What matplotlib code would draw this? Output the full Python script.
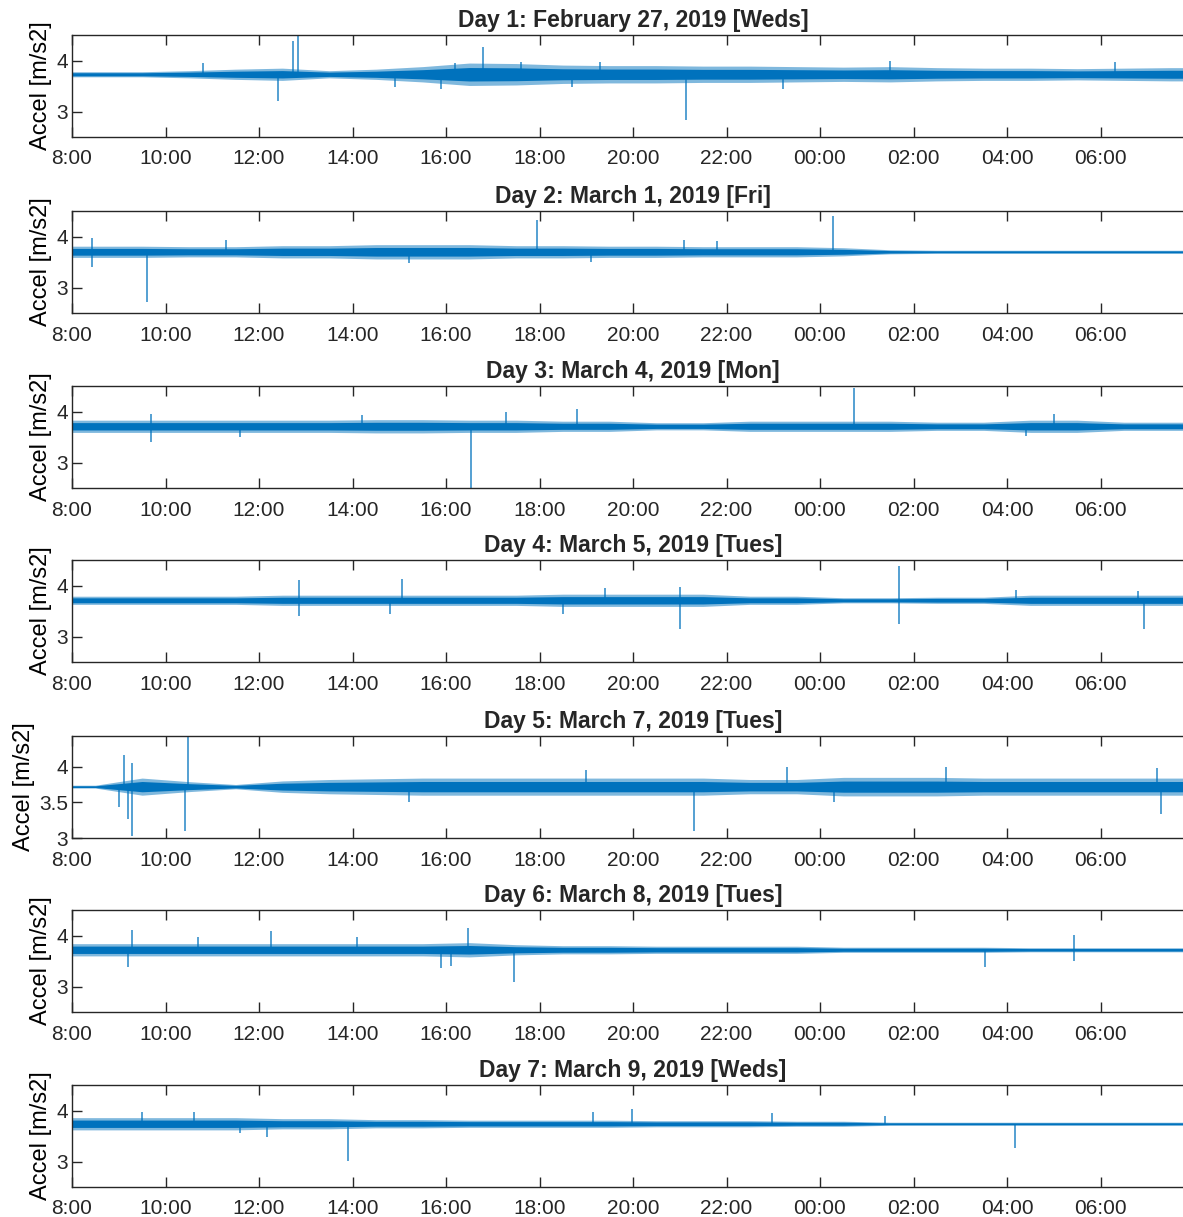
import numpy as np
import matplotlib.pyplot as plt

plt.rcParams['font.family'] = ['Liberation Sans', 'DejaVu Sans']
plt.rcParams['text.color'] = '#262626'
plt.rcParams['axes.edgecolor'] = '#262626'
plt.rcParams['xtick.color'] = '#262626'
plt.rcParams['ytick.color'] = '#262626'

titles = ["Day 1: February 27, 2019 [Weds]",
          "Day 2: March 1, 2019 [Fri]",
          "Day 3: March 4, 2019 [Mon]",
          "Day 4: March 5, 2019 [Tues]",
          "Day 5: March 7, 2019 [Tues]",
          "Day 6: March 8, 2019 [Tues]",
          "Day 7: March 9, 2019 [Weds]"]

tick_hours = [0, 2, 4, 6, 8, 10, 12, 14, 16, 18, 20, 22]
tick_labels = ['8:00', '10:00', '12:00', '14:00', '16:00', '18:00',
               '20:00', '22:00', '00:00', '02:00', '04:00', '06:00']

# signal centre level per day
baseline = [3.73, 3.70, 3.71, 3.71, 3.72, 3.72, 3.74]

# half-width of the noise band, one value per hour from 8:00 to 7:00
band_1 = [0.05, 0.05, 0.07, 0.10, 0.12, 0.07, 0.10, 0.15, 0.22, 0.21, 0.18, 0.17,
          0.17, 0.16, 0.16, 0.15, 0.14, 0.15, 0.13, 0.12, 0.12, 0.11, 0.12, 0.13]
band_2 = [0.11, 0.11, 0.10, 0.10, 0.12, 0.12, 0.14, 0.14, 0.14, 0.12, 0.12, 0.11,
          0.11, 0.10, 0.10, 0.10, 0.08, 0.04, 0.03, 0.03, 0.03, 0.03, 0.03, 0.03]
band_3 = [0.12, 0.12, 0.12, 0.12, 0.12, 0.12, 0.13, 0.13, 0.12, 0.12, 0.10, 0.10,
          0.07, 0.07, 0.10, 0.10, 0.10, 0.10, 0.08, 0.08, 0.12, 0.12, 0.08, 0.08]
band_4 = [0.08, 0.08, 0.08, 0.08, 0.10, 0.10, 0.10, 0.10, 0.10, 0.10, 0.12, 0.12,
          0.12, 0.12, 0.08, 0.08, 0.05, 0.05, 0.06, 0.06, 0.10, 0.10, 0.10, 0.10]
band_5 = [0.02, 0.12, 0.07, 0.03, 0.08, 0.10, 0.11, 0.12, 0.12, 0.12, 0.12, 0.12,
          0.12, 0.12, 0.10, 0.10, 0.13, 0.13, 0.13, 0.12, 0.12, 0.12, 0.12, 0.12]
band_6 = [0.12, 0.12, 0.12, 0.12, 0.12, 0.12, 0.12, 0.12, 0.14, 0.10, 0.08, 0.08,
          0.07, 0.07, 0.07, 0.07, 0.05, 0.05, 0.05, 0.05, 0.04, 0.04, 0.04, 0.04]
band_7 = [0.12, 0.12, 0.12, 0.12, 0.10, 0.10, 0.08, 0.08, 0.07, 0.07, 0.07, 0.07,
          0.06, 0.06, 0.06, 0.05, 0.05, 0.03, 0.03, 0.03, 0.03, 0.03, 0.03, 0.03]

# isolated spikes and larger whiskers: (hours after 8:00, peak value)
spikes_1 = [(4.40, 3.20), (4.73, 4.38), (4.83, 4.50), (2.80, 3.95), (8.80, 4.27),
            (13.13, 2.83), (7.90, 3.45), (15.20, 3.45), (17.50, 4.00), (22.30, 3.98),
            (8.20, 3.95), (9.60, 3.98), (11.30, 3.98), (6.90, 3.48), (10.70, 3.48)]
spikes_2 = [(0.43, 3.98), (0.43, 3.41), (1.60, 2.72), (9.95, 4.33), (16.28, 4.40),
            (13.10, 3.93), (13.80, 3.92), (3.30, 3.93), (7.20, 3.48), (11.10, 3.50)]
spikes_3 = [(1.70, 3.95), (1.70, 3.41), (8.54, 2.50), (9.28, 4.00), (10.80, 4.05),
            (16.72, 4.47), (21.00, 3.95), (6.20, 3.93), (3.60, 3.50), (20.40, 3.52)]
spikes_4 = [(4.85, 4.10), (4.85, 3.41), (7.06, 4.12), (13.00, 3.15), (13.00, 3.97),
            (17.70, 4.39), (17.70, 3.24), (22.94, 3.14), (22.80, 3.90), (10.50, 3.44),
            (6.80, 3.45), (11.40, 3.96), (20.20, 3.92)]
spikes_5 = [(1.00, 3.44), (1.12, 4.16), (1.20, 3.26), (1.28, 3.03), (1.28, 4.05),
            (2.42, 3.10), (2.48, 4.43), (13.30, 3.10), (23.30, 3.34), (23.20, 3.98),
            (15.30, 4.00), (18.70, 4.00), (7.20, 3.50), (16.30, 3.50), (11.00, 3.95)]
spikes_6 = [(1.28, 4.10), (8.48, 4.14), (9.46, 3.08), (4.25, 4.08), (19.54, 3.39),
            (21.43, 4.01), (21.43, 3.50), (7.90, 3.36), (1.20, 3.39), (2.70, 3.98),
            (6.10, 3.98), (8.10, 3.40)]
spikes_7 = [(5.90, 3.01), (11.98, 4.03), (11.15, 3.98), (20.18, 3.26), (14.97, 3.95),
            (17.40, 3.90), (4.18, 3.48), (1.50, 3.98), (2.60, 3.98), (3.60, 3.55)]

bands = [band_1, band_2, band_3, band_4, band_5, band_6, band_7]
spikes = [spikes_1, spikes_2, spikes_3, spikes_4, spikes_5, spikes_6, spikes_7]

blue = '#0072BD'
W, H = 1183, 1217
tops = [35, 211, 386, 560, 736, 910, 1085]
ax_h = 102
left, right = 72, 1194

fig = plt.figure(figsize=(W/100, H/100), dpi=100)

for i in range(7):
    ax = fig.add_axes([left/W, 1 - (tops[i] + ax_h)/H, (right - left)/W, ax_h/H])
    b = np.array(bands[i])
    hx = np.concatenate(([0], np.arange(24) + 0.5, [24]))
    hb = np.concatenate(([b[0]], b, [b[-1]]))
    c = baseline[i]
    ax.fill_between(hx, c - hb, c + hb, color=blue, alpha=0.5, lw=0)
    ax.fill_between(hx, c - 0.6*hb, c + 0.6*hb, color=blue, lw=0)
    for t, v in spikes[i]:
        ax.vlines(t, c, v, color=blue, lw=1.1, alpha=0.85)
    ax.set_xlim(0, 24)
    ax.set_xticks(tick_hours)
    ax.set_xticklabels(tick_labels)
    if i == 4:
        ax.set_ylim(3, 4.43)
        ax.set_yticks([3, 3.5, 4])
        ax.set_yticklabels(['3', '3.5', '4'])
    else:
        ax.set_ylim(2.5, 4.5)
        ax.set_yticks([3, 4])
    ax.tick_params(direction='in', length=7, width=1, top=True, right=True,
                   labelsize=15, pad=3)
    ax.tick_params(axis='x', pad=9)
    for s in ax.spines.values():
        s.set_linewidth(1)
    ax.set_ylabel('Accel [m/s2]', fontsize=17, labelpad=3)
    ax.set_title(titles[i], fontsize=16.5, fontweight='bold', pad=6)

fig.savefig('out.png', dpi=100)
